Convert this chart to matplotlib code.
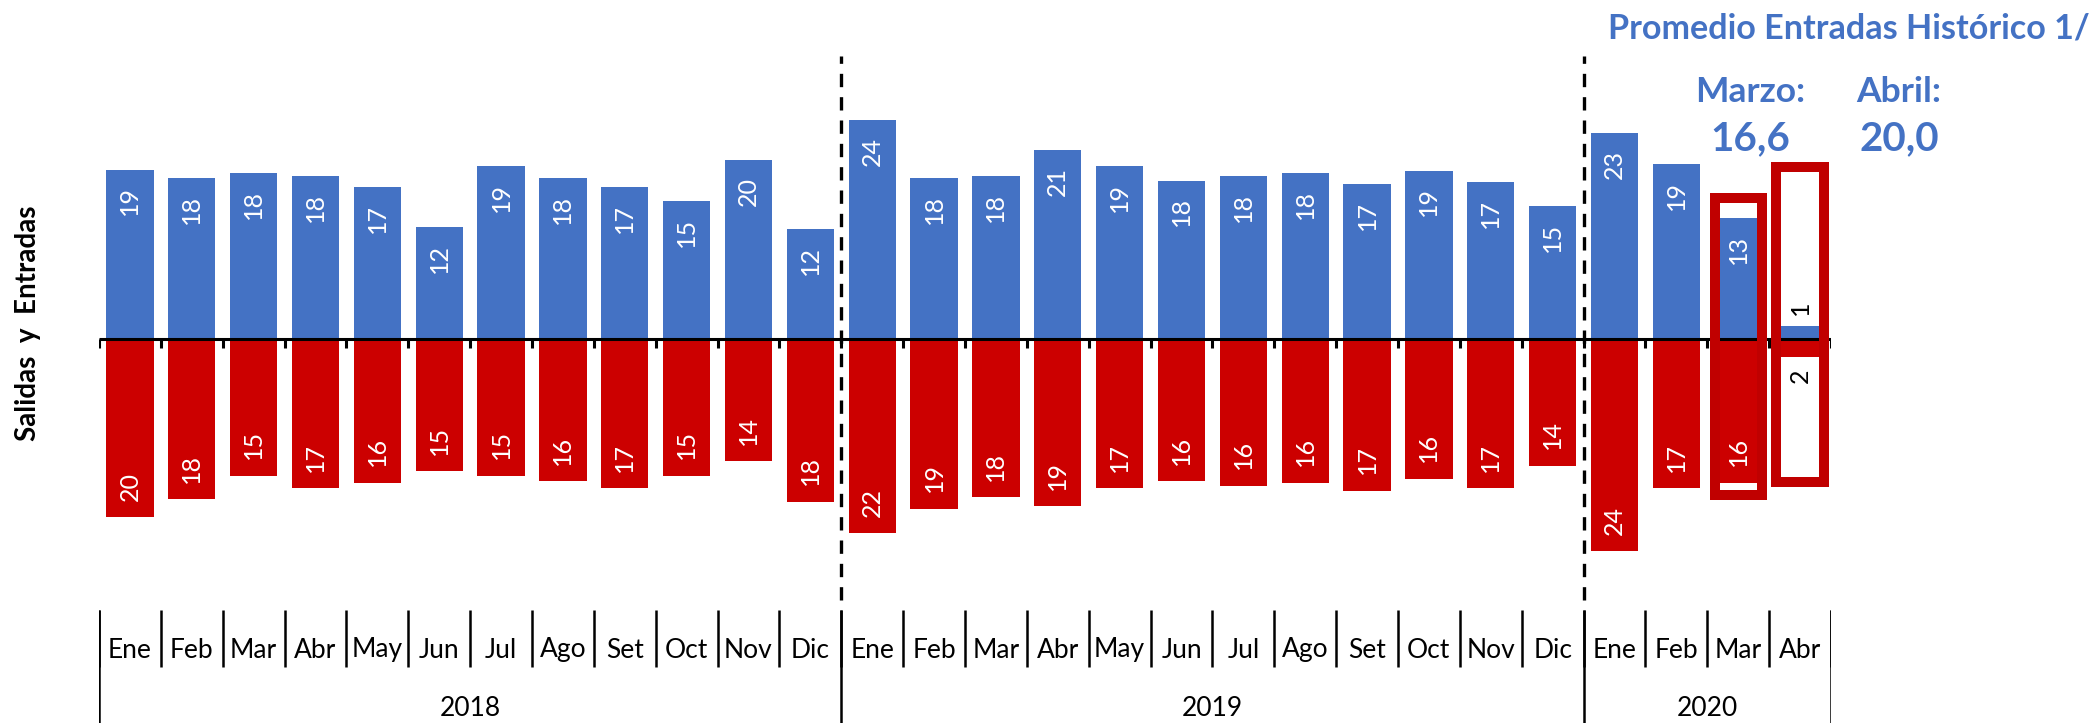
import numpy as np
import matplotlib.pyplot as plt
from matplotlib.patches import Rectangle

plt.rcParams['font.family'] = ['Lato', 'DejaVu Sans']

# datos
meses = ["Ene", "Feb", "Mar", "Abr", "May", "Jun", "Jul", "Ago", "Set", "Oct", "Nov", "Dic"]
anios = ["2018", "2019", "2020"]
n_meses = [12, 12, 4]

entradas = [18.8, 17.9, 18.4, 18.1, 16.9, 12.4, 19.2, 17.9, 16.9, 15.3, 19.9, 12.2,
            24.3, 17.9, 18.1, 21.0, 19.2, 17.6, 18.1, 18.4, 17.2, 18.7, 17.4, 14.8,
            22.9, 19.4, 13.4, 1.4]
salidas = [19.8, 17.8, 15.2, 16.6, 16.0, 14.7, 15.2, 15.8, 16.6, 15.2, 13.6, 18.1,
           21.6, 18.9, 17.6, 18.6, 16.6, 15.8, 16.3, 16.0, 16.9, 15.5, 16.6, 14.1,
           23.6, 16.6, 16.0, 2.0]

# recuadros de marzo y abril 2020
marco_idx = [26, 27]
marco_sup = [15.7, 19.1]
marco_inf = [17.3, 15.9]

prom_meses = ["Marzo:", "Abril:"]
prom_valores = ["16,6", "20,0"]

azul = "#4472C4"
rojo = "#CC0000"
rojo_marco = "#C00000"

W, H = 2095, 723
fig = plt.figure(figsize=(W / 100, H / 100), dpi=100)
k = 9.0          # px por unidad
y0 = 339         # fila del cero en px
ax = fig.add_axes([99 / W, 0, (1831 - 99) / W, 1])
ax.set_xlim(-0.5, 27.5)
ax.set_ylim(-(H - y0) / k, y0 / k)
ax.axis("off")

def py(p):
    # pixel vertical -> dato
    return (y0 - p) / k

x = np.arange(len(entradas))
ancho = 0.765

# fondos blancos de los recuadros
for i, s, b in zip(marco_idx, marco_sup, marco_inf):
    ax.add_patch(Rectangle((i - ancho / 2, -b), ancho, s + b, facecolor="white",
                           edgecolor="none", zorder=1))

ax.bar(x, entradas, width=ancho, color=azul, zorder=2)
ax.bar(x, [-v for v in salidas], width=ancho, color=rojo, zorder=2)

for i, s, b in zip(marco_idx, marco_sup, marco_inf):
    ax.add_patch(Rectangle((i - ancho / 2, -b), ancho, s + b, facecolor="none",
                           edgecolor=rojo_marco, lw=7.2, zorder=4))

# etiquetas de valores
fs_val = 18
for i, (e, s) in enumerate(zip(entradas, salidas)):
    if e > 5:
        ax.annotate(f"{e:.0f}", (i, e), xytext=(0, -12), textcoords="offset points",
                    rotation=90, ha="center", va="top", color="white", fontsize=fs_val, zorder=5)
    else:
        ax.annotate(f"{e:.0f}", (i, e), xytext=(0, 8), textcoords="offset points",
                    rotation=90, ha="center", va="bottom", color="black", fontsize=fs_val, zorder=5)
    if s > 5:
        ax.annotate(f"{s:.0f}", (i, -s), xytext=(0, 12), textcoords="offset points",
                    rotation=90, ha="center", va="bottom", color="white", fontsize=fs_val, zorder=5)
    else:
        ax.annotate(f"{s:.0f}", (i, -s), xytext=(0, -8), textcoords="offset points",
                    rotation=90, ha="center", va="top", color="black", fontsize=fs_val, zorder=5)

# eje en cero con marcas
bordes = np.arange(-0.5, 28, 1)
ax.hlines(0, -0.5, 27.5, color="black", lw=2.2, zorder=3)
ax.vlines(bordes, py(348), 0, color="black", lw=2.2, zorder=3)

# separadores de anios (punteados)
cortes = np.cumsum(n_meses)[:-1] - 0.5
ax.vlines(cortes, py(600), py(56), color="black", lw=2.4, linestyles=(0, (4, 3)), zorder=3)

# etiquetas de meses y anios
etiquetas = []
for n in n_meses:
    etiquetas += meses[:n]
for i, m in enumerate(etiquetas):
    ax.text(i, py(650), m, ha="center", va="center", fontsize=19)
ax.vlines(bordes, py(667), py(610), color="black", lw=1.8)
lim_anio = np.concatenate([[-0.5], np.cumsum(n_meses) - 0.5])
ax.vlines(lim_anio, py(H), py(610), color="black", lw=1.8)
for a, l, r in zip(anios, lim_anio[:-1], lim_anio[1:]):
    ax.text((l + r) / 2, py(708), a, ha="center", va="center", fontsize=19)

fig.text(28 / W, 1 - 323 / H, "Salidas  y  Entradas", rotation=90, ha="center",
         va="center", fontsize=20, fontweight="bold")

# promedios historicos
fig.text(2090 / W, 1 - 28 / H, "Promedio Entradas Histórico 1/", ha="right", va="center",
         fontsize=24.6, fontweight="bold", color=azul)
for xc, m, v in zip([1750, 1899], prom_meses, prom_valores):
    fig.text(xc / W, 1 - 92 / H, m, ha="center", va="center", fontsize=25.5,
             fontweight="bold", color=azul)
    fig.text(xc / W, 1 - 139 / H, v, ha="center", va="center", fontsize=29,
             fontweight="bold", color=azul)

fig.savefig("out.png", dpi=100)
